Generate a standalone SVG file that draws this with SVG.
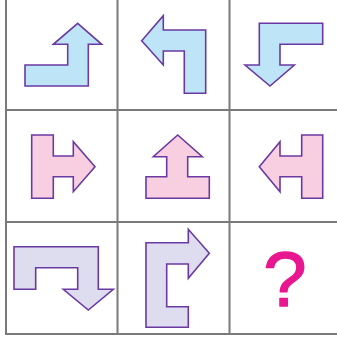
<svg xmlns="http://www.w3.org/2000/svg" width="337" height="340" viewBox="0 0 337 340">
<style>
.grid{stroke:#7a7a7a;stroke-width:2;fill:none}
.sh{stroke:#6a3aa2;stroke-width:1.6;stroke-linejoin:miter}
.blue{fill:#bee4f8}
.pink{fill:#f8cfe1}
.lav{fill:#dedcef}
.q{font-family:"Liberation Sans","DejaVu Sans",sans-serif;font-size:78px;fill:#e8178f;stroke:#e8178f;stroke-width:1.4;stroke-linejoin:round;text-anchor:middle}
</style>
<rect width="337" height="340" fill="#ffffff"/>
<g id="grid" class="grid">
<line x1="6" y1="0" x2="6" y2="335"/>
<line x1="117.5" y1="0" x2="117.5" y2="335"/>
<line x1="229.5" y1="0" x2="229.5" y2="335"/>
<line x1="5" y1="110" x2="337" y2="110"/>
<line x1="5" y1="222" x2="337" y2="222"/>
<line x1="5" y1="334" x2="337" y2="334"/>
</g>
<g id="cell1"><polygon class="sh blue" points="77.7,23.3 101.7,44.3 88.3,44.3 88.3,86 25,86 25,65 67.7,65 67.7,44.3 53.3,44.3"/></g>
<g id="cell2"><polygon class="sh blue" points="141.7,40.7 163.3,15.7 163.3,30 205.7,30 205.7,93.3 184.3,93.3 184.3,51 163.3,51 163.3,65"/></g>
<g id="cell3"><polygon class="sh blue" points="259.3,23.3 322.7,23.3 322.7,44.3 280,44.3 280,65 294.3,65 270,86 245,65 259.3,65"/></g>
<g id="cell4"><polygon class="sh pink" points="31.7,135 53.3,135 53.3,156 73.3,156 73.3,141.7 95,166.7 73.3,191.7 73.3,176.7 53.3,176.7 53.3,198.3 31.7,198.3"/></g>
<g id="cell5"><polygon class="sh pink" points="177.7,135 202.3,156.7 187.7,156.7 187.7,176.7 209.3,176.7 209.3,198.3 146,198.3 146,176.7 166.7,176.7 166.7,156.7 153.3,156.7"/></g>
<g id="cell6"><polygon class="sh pink" points="322.7,135 322.7,198.3 301.7,198.3 301.7,176.7 280,176.7 280,191.7 259.3,166.7 280,141.7 280,156 301.7,156 301.7,135"/></g>
<g id="cell7"><polygon class="sh lav" points="14,246.7 98.3,246.7 98.3,289.3 113.3,289.3 88.3,310 63.3,289.3 77.7,289.3 77.7,267.7 35.7,267.7 35.7,289.3 14,289.3"/></g>
<g id="cell8"><polygon class="sh lav" points="146,242.7 188.3,242.7 188.3,229.3 209.3,253.3 188.3,278.3 188.3,264 166.7,264 166.7,306.7 188.3,306.7 188.3,327.3 146,327.3"/></g>
<g id="cell9"><text class="q" x="285" y="306">?</text></g>
</svg>
